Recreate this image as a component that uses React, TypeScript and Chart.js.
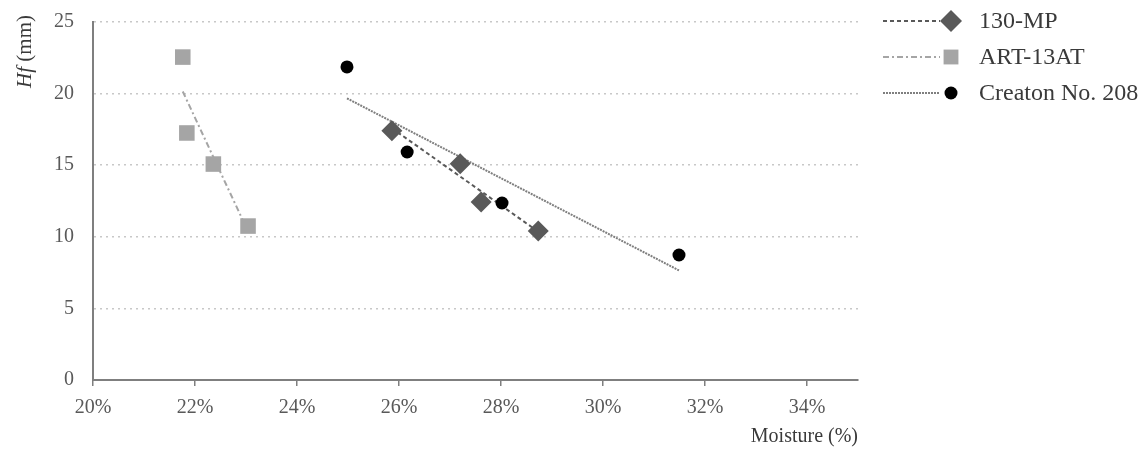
import { useEffect, useRef } from 'react';
import { Chart, registerables } from 'chart.js';
Chart.register(...registerables);

const seriesNames = ['130-MP', 'ART-13AT', 'Creaton No. 208'];
const mpMoisture = [25.86, 27.2, 27.61, 28.73];
const mpHf = [17.4, 15.1, 12.43, 10.4];
const artMoisture = [21.76, 21.84, 22.36, 23.04];
const artHf = [22.55, 17.25, 15.08, 10.75];
const creMoisture = [24.98, 26.16, 28.02, 31.49];
const creHf = [21.86, 15.92, 12.36, 8.73];
const xTicks = [20, 22, 24, 26, 28, 30, 32, 34];
const yTicks = [0, 5, 10, 15, 20, 25];
const xTitle = 'Moisture (%)';
const yTitleItalic = 'Hf';
const yTitleRest = ' (mm)';

const FONT = '"Liberation Serif", "Times New Roman", serif';

function fit(xs: number[], ys: number[]) {
  const n = xs.length;
  const mx = xs.reduce((a, b) => a + b, 0) / n;
  const my = ys.reduce((a, b) => a + b, 0) / n;
  let sxy = 0;
  let sxx = 0;
  for (let i = 0; i < n; i++) {
    sxy += (xs[i] - mx) * (ys[i] - my);
    sxx += (xs[i] - mx) * (xs[i] - mx);
  }
  const b = sxy / sxx;
  const a = my - b * mx;
  const x0 = Math.min(...xs);
  const x1 = Math.max(...xs);
  return [
    { x: x0, y: a + b * x0 },
    { x: x1, y: a + b * x1 },
  ];
}

const pts = (xs: number[], ys: number[]) => xs.map((x, i) => ({ x, y: ys[i] }));

type Style = {
  lineColor: string;
  lineWidth: number;
  dash: number[];
  marker: 'rectRot' | 'rect' | 'circle';
  markerColor: string;
  radius: number;
  legendRadius: number;
};

const styles: Style[] = [
  { lineColor: '#595959', lineWidth: 2, dash: [4, 3], marker: 'rectRot', markerColor: '#595959', radius: 10.5, legendRadius: 11 },
  { lineColor: '#a5a5a5', lineWidth: 2, dash: [6, 3, 2, 3], marker: 'rect', markerColor: '#a5a5a5', radius: 11, legendRadius: 10.5 },
  { lineColor: '#7f7f7f', lineWidth: 2, dash: [2, 1], marker: 'circle', markerColor: '#000000', radius: 6.5, legendRadius: 6.5 },
];

function drawMarker(ctx: CanvasRenderingContext2D, s: Style, x: number, y: number, r: number) {
  ctx.beginPath();
  if (s.marker === 'rectRot') {
    ctx.moveTo(x - r, y);
    ctx.lineTo(x, y - r);
    ctx.lineTo(x + r, y);
    ctx.lineTo(x, y + r);
    ctx.closePath();
  } else if (s.marker === 'rect') {
    const h = r * Math.SQRT1_2;
    ctx.rect(x - h, y - h, 2 * h, 2 * h);
  } else {
    ctx.arc(x, y, r, 0, Math.PI * 2);
  }
  ctx.fillStyle = s.markerColor;
  ctx.fill();
}

const customPlugin = {
  id: 'customDecor',
  afterDraw(chart: any) {
    const ctx: CanvasRenderingContext2D = chart.ctx;
    // legend
    const rowY = [21, 57, 93];
    seriesNames.forEach((name, i) => {
      const s = styles[i];
      const y = rowY[i];
      ctx.save();
      ctx.strokeStyle = s.lineColor;
      ctx.lineWidth = s.lineWidth;
      ctx.setLineDash(s.dash);
      ctx.beginPath();
      ctx.moveTo(883, y);
      ctx.lineTo(940, y);
      ctx.stroke();
      ctx.setLineDash([]);
      drawMarker(ctx, s, 951, y, s.legendRadius);
      ctx.fillStyle = '#3a3a3a';
      ctx.font = `24px ${FONT}`;
      ctx.textAlign = 'left';
      ctx.textBaseline = 'middle';
      ctx.fillText(name, 979, y + 1);
      ctx.restore();
    });
    // y axis title (mixed italic)
    ctx.save();
    ctx.translate(25, chart.chartArea.top - 7);
    ctx.rotate(-Math.PI / 2);
    ctx.fillStyle = '#3a3a3a';
    ctx.textBaseline = 'middle';
    ctx.textAlign = 'left';
    const fItal = `italic 21px ${FONT}`;
    const fNorm = `21px ${FONT}`;
    ctx.font = fItal;
    const w1 = ctx.measureText(yTitleItalic).width;
    ctx.font = fNorm;
    const w2 = ctx.measureText(yTitleRest).width;
    const start = -(w1 + w2);
    ctx.font = fItal;
    ctx.fillText(yTitleItalic, start, 0);
    ctx.font = fNorm;
    ctx.fillText(yTitleRest, start + w1, 0);
    ctx.restore();
  },
};

export default function App() {
  const ref = useRef<HTMLCanvasElement | null>(null);
  useEffect(() => {
    document.body.style.margin = '0';
    const canvas = ref.current;
    if (!canvas) return;
    const series = [
      [mpMoisture, mpHf],
      [artMoisture, artHf],
      [creMoisture, creHf],
    ];
    const trendSets = series.map(([xs, ys], i) => ({
      type: 'line' as const,
      label: seriesNames[i] + ' trend',
      data: fit(xs, ys),
      borderColor: styles[i].lineColor,
      borderWidth: styles[i].lineWidth,
      borderDash: styles[i].dash,
      pointRadius: 0,
      fill: false,
      showLine: true,
      order: 2,
    }));
    const pointSets = series.map(([xs, ys], i) => ({
      type: 'scatter' as const,
      label: seriesNames[i],
      data: pts(xs, ys),
      pointStyle: styles[i].marker,
      pointRadius: styles[i].radius,
      pointHoverRadius: styles[i].radius,
      backgroundColor: styles[i].markerColor,
      borderColor: styles[i].markerColor,
      borderWidth: 0,
      showLine: false,
      order: 1,
    }));
    const chart = new Chart(canvas, {
      type: 'scatter',
      data: { datasets: [...trendSets, ...pointSets] as any },
      plugins: [customPlugin],
      options: {
        animation: false,
        responsive: false,
        devicePixelRatio: 1,
        layout: { padding: { top: 22, right: 286, left: 0, bottom: 0 } },
        plugins: { legend: { display: false }, tooltip: { enabled: false } },
        scales: {
          x: {
            type: 'linear',
            min: 20,
            max: 35,
            afterBuildTicks: (s: any) => {
              s.ticks = xTicks.map((v) => ({ value: v }));
            },
            afterFit: (s: any) => {
              s.height = 71;
              s.paddingLeft = 0;
              s.paddingRight = 0;
            },
            ticks: {
              callback: (v: any) => v + '%',
              color: '#595959',
              font: { family: FONT, size: 20 },
              padding: 10,
              maxRotation: 0,
              autoSkip: false,
            },
            grid: {
              drawOnChartArea: false,
              drawTicks: true,
              tickLength: 6,
              color: '#7f7f7f',
              tickColor: '#7f7f7f',
              tickWidth: 1.5,
              lineWidth: 1.5,
            },
            border: { color: '#7f7f7f', width: 2 },
            title: {
              display: true,
              text: xTitle,
              align: 'end',
              color: '#3a3a3a',
              font: { family: FONT, size: 20 },
              padding: { top: 0, bottom: 2 },
            },
          },
          y: {
            type: 'linear',
            min: 0,
            max: 25,
            afterBuildTicks: (s: any) => {
              s.ticks = yTicks.map((v) => ({ value: v }));
            },
            afterFit: (s: any) => {
              s.width = 93;
              s.paddingTop = 0;
              s.paddingBottom = 0;
            },
            ticks: {
              color: '#595959',
              font: { family: FONT, size: 20 },
              padding: 19,
            },
            grid: {
              drawTicks: false,
              color: '#c8c8c8',
              lineWidth: 1.5,
            },
            border: { color: '#7f7f7f', width: 2, dash: [2, 4] },
          },
        },
      } as any,
    });
    return () => chart.destroy();
  }, []);
  return (
    <div style={{ width: 1144, height: 451 }}>
      <canvas ref={ref} width={1144} height={451} style={{ display: 'block' }} />
    </div>
  );
}
